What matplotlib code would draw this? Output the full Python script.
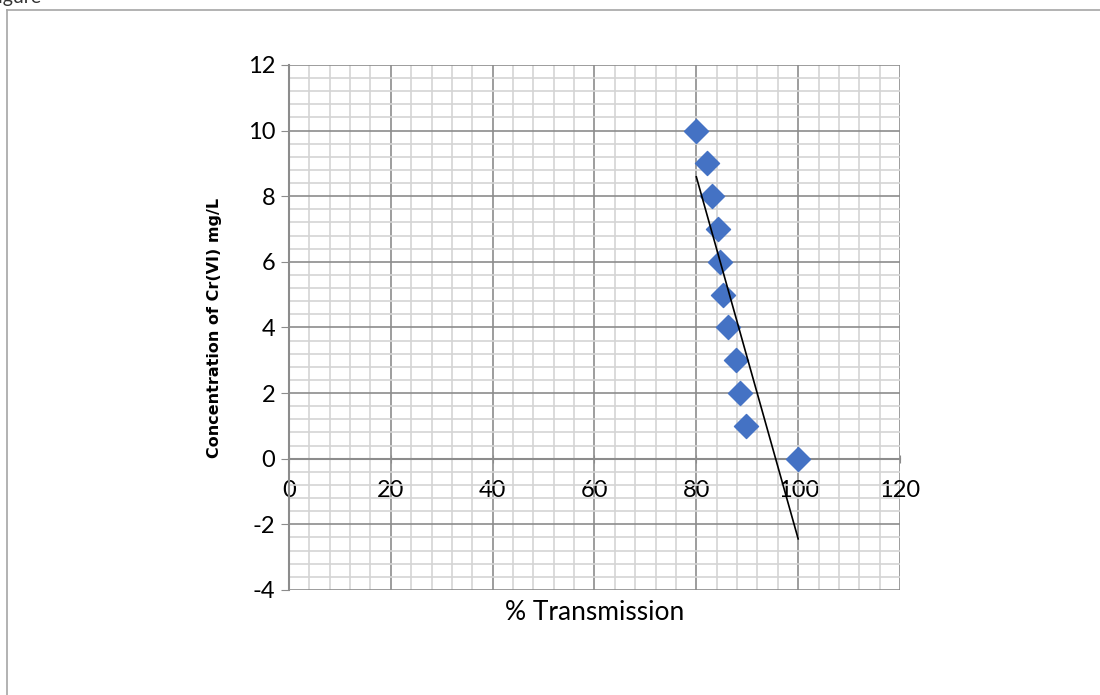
import matplotlib.pyplot as plt
import numpy as np
from matplotlib.ticker import MultipleLocator
from matplotlib.lines import Line2D

plt.rcParams["axes.unicode_minus"] = False

transmission = [80, 82, 83, 84.2, 84.7, 85.2, 86.3, 87.8, 88.6, 89.8, 100]
concentration = [10, 9, 8, 7, 6, 5, 4, 3, 2, 1, 0]

fig = plt.figure(figsize=(11, 6.95), dpi=100)
ax = fig.add_axes([0.2627, 0.1511, 0.5555, 0.7554])

# outer chart frame (cut off at right/bottom)
fig.add_artist(Line2D([0.0068, 1.0], [0.9863, 0.9863], color="#a6a6a6", lw=1.2))
fig.add_artist(Line2D([0.0068, 0.0068], [0.0, 0.9863], color="#a6a6a6", lw=1.2))
fig.text(-0.012, 1.004, "Figure", fontsize=14, family="Lato", va="center", ha="left", color="#333333")

ax.set_xlim(0, 120)
ax.set_ylim(-4, 12)
ax.xaxis.set_major_locator(MultipleLocator(20))
ax.xaxis.set_minor_locator(MultipleLocator(4))
ax.yaxis.set_major_locator(MultipleLocator(2))
ax.yaxis.set_minor_locator(MultipleLocator(0.4))
ax.grid(which="minor", color="#d4d4d4", lw=1.2)
ax.grid(which="major", color="#8c8c8c", lw=1.2)
ax.set_axisbelow(True)

ax.spines["left"].set_position(("data", 0))
ax.spines["bottom"].set_position(("data", 0))
ax.spines["right"].set_visible(False)
ax.spines["top"].set_visible(False)
ax.spines["left"].set_color("#8c8c8c")
ax.spines["bottom"].set_color("#8c8c8c")
ax.spines["left"].set_linewidth(1.5)
ax.spines["bottom"].set_linewidth(1.5)

ax.tick_params(which="major", length=6, color="#8c8c8c", labelsize=17, pad=4)
ax.tick_params(which="minor", length=0)
ax.tick_params(axis="x", direction="inout", pad=12)
for lbl in ax.get_xticklabels() + ax.get_yticklabels():
    lbl.set_family("Lato")

ax.scatter(transmission, concentration, marker="D", s=150, color="#4472C4", zorder=3)

slope, icpt = np.polyfit(transmission, concentration, 1)
xf = np.array([min(transmission), max(transmission)])
ax.plot(xf, slope * xf + icpt, color="black", lw=1.2, zorder=4)

fig.text(0.541, 0.118, "% Transmission", fontsize=19, family="Lato", ha="center", va="center")
ax.set_ylabel("Concentration of Cr(VI) mg/L", fontsize=11.5, fontweight="bold",
              family=["Liberation Sans Narrow", "DejaVu Sans"])
ax.yaxis.set_label_coords(-0.11, 0.5)

fig.savefig("out.png", dpi=100)
